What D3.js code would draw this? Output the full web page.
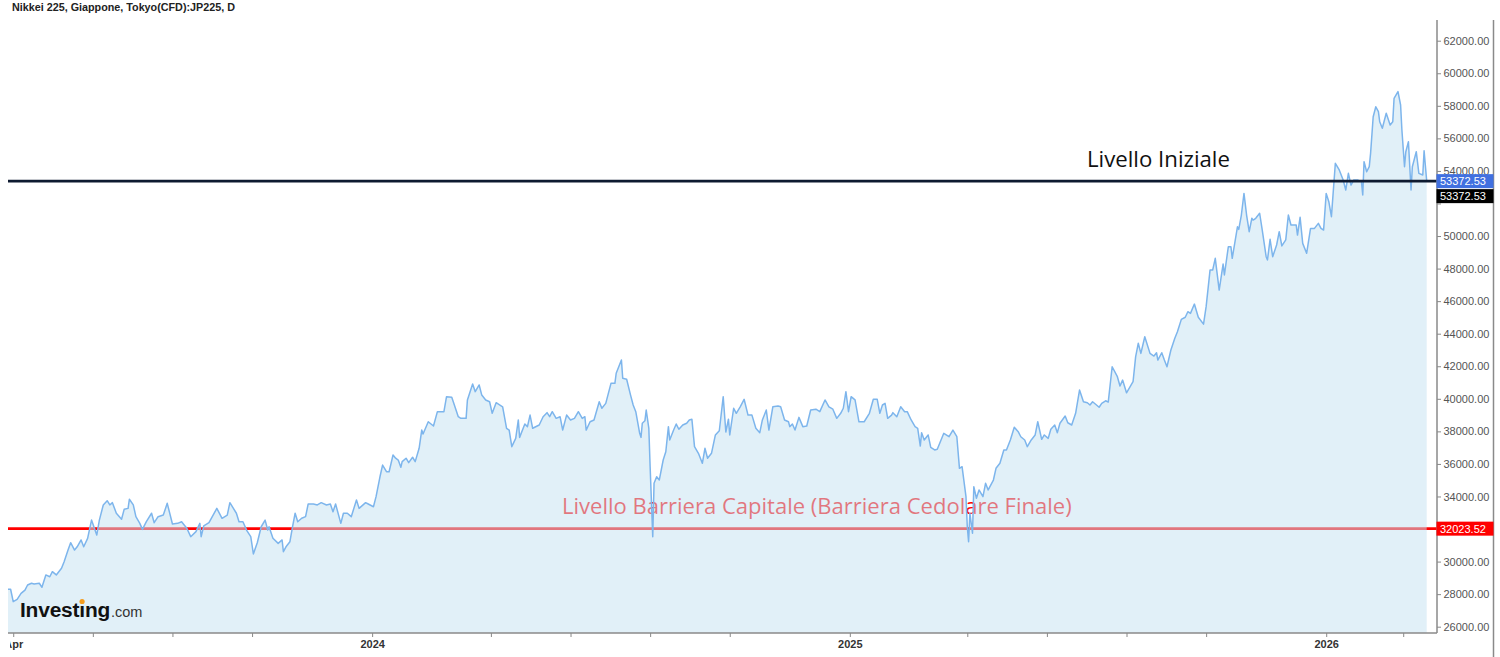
<!DOCTYPE html>
<html><head><meta charset="utf-8">
<script src="https://cdn.jsdelivr.net/npm/d3@7"></script>
<style>html,body{margin:0;padding:0;background:#fff;} svg{display:block}</style>
</head><body>
<svg id="chart" width="1500" height="657"></svg>
<script>
// ---------- DATA ----------
const title = "Nikkei 225, Giappone, Tokyo(CFD):JP225, D";
const initialLabel = "Livello Iniziale";
const barrierLabel = "Livello Barriera Capitale (Barriera Cedolare Finale)";
const initialLevel = 53372.53;
const barrierLevel = 32023.52;
const lastPrice = 53372.53;

const points2023 = [
["2023-03-28",28300],["2023-03-30",28300],["2023-04-01",27540],["2023-04-04",27680],["2023-04-07",28050],
["2023-04-10",28250],["2023-04-12",28560],["2023-04-15",28670],["2023-04-17",28620],["2023-04-21",28670],
["2023-04-23",28420],["2023-04-26",29180],["2023-04-29",29070],["2023-05-01",29380],["2023-05-04",29180],
["2023-05-08",29590],["2023-05-10",29990],["2023-05-13",30710],["2023-05-15",31160],["2023-05-18",30710],
["2023-05-20",30910],["2023-05-23",31330],["2023-05-25",30910],["2023-05-28",31430],["2023-05-31",32550],
["2023-06-04",31630],["2023-06-06",32550],["2023-06-09",33480],["2023-06-12",33740],["2023-06-14",33480],
["2023-06-16",33620],["2023-06-19",32970],["2023-06-23",32600],["2023-06-25",33210],["2023-06-28",33270],
["2023-06-29",33830],["2023-07-02",33480],["2023-07-04",32760],["2023-07-07",32350],["2023-07-09",31980],
["2023-07-12",32450],["2023-07-16",32970],["2023-07-18",32390],["2023-07-21",32760],["2023-07-25",32860],
["2023-07-28",33580],["2023-08-01",32310],["2023-08-05",32350],["2023-08-08",32450],["2023-08-12",32050],
["2023-08-15",31530],["2023-08-19",31840],["2023-08-22",32350],["2023-08-23",31530],["2023-08-25",32190],
["2023-08-29",32390],["2023-09-04",33270],["2023-09-08",32660],["2023-09-12",32860],["2023-09-14",33620],
["2023-09-19",32970],["2023-09-21",32450],["2023-09-24",32450],["2023-09-27",31900],["2023-09-30",31530],
["2023-10-02",30470],["2023-10-05",31160],["2023-10-08",32140],["2023-10-11",32550],["2023-10-13",31940],
["2023-10-14",32140],["2023-10-17",31430],["2023-10-21",31120],["2023-10-24",31330],["2023-10-25",30610],
["2023-10-27",30910],["2023-10-30",31220],["2023-11-01",32140],["2023-11-03",32970],["2023-11-05",32450],
["2023-11-08",32660],["2023-11-11",32760],["2023-11-13",33540],["2023-11-17",33540],["2023-11-20",33480],
["2023-11-23",33620],["2023-11-27",33480],["2023-11-30",33540],["2023-12-02",33060],["2023-12-04",33540],
["2023-12-08",32350],["2023-12-10",32970],["2023-12-13",32970],["2023-12-16",32760],["2023-12-20",33780],
["2023-12-22",33270],["2023-12-27",33620],["2023-12-29",33540]
];
const points2024 = [
["2024-01-02",33370],["2024-01-04",33990],["2024-01-07",35210],["2024-01-09",35930],["2024-01-12",35520],
["2024-01-14",35520],["2024-01-17",36550],["2024-01-19",36350],["2024-01-21",36240],["2024-01-23",35790],
["2024-01-24",36140],["2024-01-27",36350],["2024-01-29",36080],["2024-02-01",36410],["2024-02-03",36140],
["2024-02-06",36960],["2024-02-08",38080],["2024-02-09",37840],["2024-02-13",38590],["2024-02-17",38330],
["2024-02-20",39210],["2024-02-25",39210],["2024-02-27",40130],["2024-03-02",40090],["2024-03-04",39620],
["2024-03-07",38900],["2024-03-09",38800],["2024-03-13",38800],["2024-03-14",39930],["2024-03-18",40910],
["2024-03-20",40440],["2024-03-23",40850],["2024-03-25",40230],["2024-03-28",39930],["2024-03-31",39820],
["2024-04-02",39110],["2024-04-05",39760],["2024-04-10",39510],["2024-04-13",38190],["2024-04-15",38080],
["2024-04-17",37060],["2024-04-20",37570],["2024-04-22",38700],["2024-04-23",37630],["2024-04-27",38450],
["2024-04-29",38290],["2024-05-01",39000],["2024-05-03",38190],["2024-05-08",38390],["2024-05-11",38900],
["2024-05-14",39150],["2024-05-16",38900],["2024-05-18",39210],["2024-05-21",38800],["2024-05-24",38900],
["2024-05-26",38080],["2024-05-29",39000],["2024-06-01",38700],["2024-06-04",38800],["2024-06-07",39210],
["2024-06-10",38800],["2024-06-12",38900],["2024-06-13",38080],["2024-06-16",38590],["2024-06-19",38700],
["2024-06-23",39820],["2024-06-25",39420],["2024-06-28",39720],["2024-07-02",40950],["2024-07-05",40950],
["2024-07-06",41570],["2024-07-10",42380],["2024-07-11",41260],["2024-07-14",41200],["2024-07-17",40230],
["2024-07-19",39620],["2024-07-21",39210],["2024-07-24",37880],["2024-07-25",37630],["2024-07-26",38500],
["2024-07-28",38650],["2024-07-29",39310],["2024-07-31",38190],["2024-08-01",35830],["2024-08-03",31530],
["2024-08-04",34810],["2024-08-06",35210],["2024-08-08",35010],["2024-08-11",36240],["2024-08-13",36750],
["2024-08-15",38290],["2024-08-16",37470],["2024-08-19",38080],["2024-08-21",38450],["2024-08-23",38130],
["2024-08-26",38390],["2024-08-29",38500],["2024-08-31",38700],["2024-09-02",38740],["2024-09-04",37060],
["2024-09-07",36650],["2024-09-10",36040],["2024-09-12",36960],["2024-09-14",36350],["2024-09-17",36650],
["2024-09-20",37780],["2024-09-23",38040],["2024-09-26",40130],["2024-09-28",37960],["2024-09-30",38750],
["2024-10-01",37780],["2024-10-04",39420],["2024-10-06",39110],["2024-10-09",39510],["2024-10-12",39970],
["2024-10-15",39000],["2024-10-18",39000],["2024-10-21",38190],["2024-10-24",37920],["2024-10-26",38700],
["2024-10-29",39310],["2024-10-31",38080],["2024-11-03",39510],["2024-11-07",39560],["2024-11-09",39510],
["2024-11-12",38700],["2024-11-15",38590],["2024-11-16",38290],["2024-11-18",38450],["2024-11-20",38080],
["2024-11-23",38860],["2024-11-26",38290],["2024-11-29",38330],["2024-12-02",39310],["2024-12-06",39360],
["2024-12-09",39210],["2024-12-13",39930],["2024-12-16",39510],["2024-12-19",39360],["2024-12-22",38800],
["2024-12-25",39110],["2024-12-27",39420],["2024-12-29",40440],["2024-12-31",39210]
];
const points2025 = [
["2025-01-02",40130],["2025-01-05",39930],["2025-01-08",38590],["2025-01-12",38590],["2025-01-16",39110],
["2025-01-19",39970],["2025-01-22",39970],["2025-01-24",39110],["2025-01-26",39620],["2025-01-28",39720],
["2025-01-30",38800],["2025-02-02",39000],["2025-02-03",39150],["2025-02-06",38900],["2025-02-09",39510],
["2025-02-12",39210],["2025-02-14",39210],["2025-02-17",38700],["2025-02-20",38290],["2025-02-22",38190],
["2025-02-24",37100],["2025-02-25",37920],["2025-02-27",37470],["2025-03-02",37780],["2025-03-04",37020],
["2025-03-07",36860],["2025-03-09",36900],["2025-03-14",37880],["2025-03-18",37670],["2025-03-21",38080],
["2025-03-24",37670],["2025-03-26",35730],["2025-03-28",35830],["2025-03-31",33990],["2025-04-01",32140],
["2025-04-02",31220],["2025-04-03",32970],["2025-04-05",31740],["2025-04-06",34600],["2025-04-08",33890],
["2025-04-10",34400],["2025-04-13",33990],["2025-04-15",34810],["2025-04-17",34400],["2025-04-21",35010],
["2025-04-23",35730],["2025-04-26",36040],["2025-04-29",36860],["2025-05-01",36860],["2025-05-04",37470],
["2025-05-07",38250],["2025-05-10",37980],["2025-05-12",37670],["2025-05-15",37470],["2025-05-17",37060],
["2025-05-20",37470],["2025-05-23",37780],["2025-05-25",38590],["2025-05-28",37510],["2025-05-30",37780],
["2025-06-02",37570],["2025-06-04",38130],["2025-06-07",38390],["2025-06-09",37920],["2025-06-11",38500],
["2025-06-15",38940],["2025-06-17",38530],["2025-06-20",38390],["2025-06-23",39110],["2025-06-26",40540],
["2025-06-29",39820],["2025-07-02",39760],["2025-07-04",39620],["2025-07-06",39820],["2025-07-09",39620],
["2025-07-11",39480],["2025-07-13",39720],["2025-07-16",39880],["2025-07-18",39800],["2025-07-21",41970],
["2025-07-25",41360],["2025-07-27",40790],["2025-07-29",41150],["2025-08-01",40370],["2025-08-06",41050],
["2025-08-08",42590],["2025-08-10",43410],["2025-08-12",42790],["2025-08-15",43810],["2025-08-19",42790],
["2025-08-22",42630],["2025-08-24",42830],["2025-08-25",42380],["2025-08-28",42830],["2025-08-30",42380],
["2025-09-01",41970],["2025-09-04",43000],["2025-09-07",43720],["2025-09-09",44120],["2025-09-12",44880],
["2025-09-15",45010],["2025-09-17",45350],["2025-09-19",45250],["2025-09-22",45820],["2025-09-25",45010],
["2025-09-29",44590],["2025-10-01",45660],["2025-10-04",47910],["2025-10-06",47910],["2025-10-08",48630],
["2025-10-11",46680],["2025-10-14",48280],["2025-10-15",47610],["2025-10-18",49340],["2025-10-20",49340],
["2025-10-21",48630],["2025-10-25",50570],["2025-10-26",50410],["2025-10-28",51290],["2025-10-30",52620],
["2025-11-01",51290],["2025-11-03",50270],["2025-11-05",51090],["2025-11-06",50980],["2025-11-08",51090],
["2025-11-11",51400],["2025-11-13",50370],["2025-11-16",48730],["2025-11-17",48530],["2025-11-19",49800],
["2025-11-21",48730],["2025-11-24",49450],["2025-11-26",50270],["2025-11-28",49390],["2025-12-01",49760],
["2025-12-03",51290],["2025-12-05",50680],["2025-12-09",50680],["2025-12-10",50060],["2025-12-12",51150],
["2025-12-14",49550],["2025-12-17",48940],["2025-12-20",50470],["2025-12-23",50470],["2025-12-26",50780],
["2025-12-28",50470],["2025-12-30",50370]
];
const points2026 = [
["2026-01-01",52620],["2026-01-03",52110],["2026-01-05",51190],["2026-01-08",54470],["2026-01-11",54060],
["2026-01-14",53440],["2026-01-16",52830],["2026-01-18",53850],["2026-01-20",53130],["2026-01-22",53440],
["2026-01-25",53440],["2026-01-28",53340],["2026-01-29",52520],["2026-01-30",54570],["2026-02-01",53950],
["2026-02-03",54260],["2026-02-04",55080],["2026-02-06",57330],["2026-02-08",57940],["2026-02-10",57640],
["2026-02-11",57020],["2026-02-13",56620],["2026-02-16",57540],["2026-02-19",56820],["2026-02-21",57020],
["2026-02-22",58460],["2026-02-25",58870],["2026-02-27",58050],["2026-02-28",56510],["2026-03-02",54260],
["2026-03-03",55180],["2026-03-05",55790],["2026-03-07",52830],["2026-03-08",54260],["2026-03-11",55180],
["2026-03-13",53850],["2026-03-16",53750],["2026-03-17",55240],["2026-03-19",53372.53]
];

const yTicks = [26000,28000,30000,32000,34000,36000,38000,40000,42000,44000,46000,48000,50000,52000,54000,56000,58000,60000,62000];
// tick labels hidden behind the price boxes in the reference
const yHiddenLabels = [32000, 52000];
const xTickDates = ["2023-04-01","2023-06-01","2023-08-01","2023-10-01","2024-01-01","2024-04-01","2024-06-01","2024-08-01","2024-10-01","2025-01-01","2025-04-01","2025-06-01","2025-08-01","2025-10-01","2026-01-01","2026-03-01"];
const xTickLabels = ["Apr","","","","2024","","","","","2025","","","","","2026",""];
const xDomain = ["2023-03-28","2026-03-19"];
const yDomain = [26000, 62000];

// ---------- LAYOUT ----------
const parse = d3.timeParse("%Y-%m-%d");
const data = [...points2023, ...points2024, ...points2025, ...points2026].map(d => ({date: parse(d[0]), value: d[1]}));

const plotLeft = 8, plotRight = 1437, plotTop = 20, plotBottom = 633, frameRight = 1493.5;
const x = d3.scaleTime().domain(xDomain.map(parse)).range([8, 1426.7]);
const y = d3.scaleLinear().domain(yDomain).range([626.7, 40.7]);

const svg = d3.select("#chart");
const defs = svg.append("defs");
defs.append("clipPath").attr("id","plotClip").append("rect")
  .attr("x", plotLeft).attr("y", plotTop).attr("width", plotRight - plotLeft).attr("height", plotBottom - plotTop);
defs.append("clipPath").attr("id","xAxisClip").append("rect")
  .attr("x", 10).attr("y", -2).attr("width", 1490).attr("height", 30);

const plot = svg.append("g").attr("clip-path","url(#plotClip)");

function fitText(sel, width) {
  const w = sel.node().getComputedTextLength();
  const fs = parseFloat(sel.attr("font-size"));
  if (w > 0) sel.attr("font-size", (fs * width / w).toFixed(2));
}

// red barrier line + label (drawn below the translucent area)
plot.append("line").attr("x1", 6).attr("x2", plotRight)
  .attr("y1", y(barrierLevel)).attr("y2", y(barrierLevel))
  .attr("stroke", "#ff0000").attr("stroke-width", 2.6);
const redText = plot.append("text").attr("x", 562).attr("y", 514)
  .attr("font-family", "'Open Sans', 'Noto Sans', sans-serif").attr("font-size", 20)
  .attr("fill", "#ff0000").text(barrierLabel);
fitText(redText, 510);

// area + line
const area = d3.area().x(d => x(d.date)).y0(plotBottom).y1(d => y(d.value));
plot.append("path").datum(data).attr("d", area).attr("fill", "rgba(198,227,242,0.52)");
const line = d3.line().x(d => x(d.date)).y(d => y(d.value));
plot.append("path").datum(data).attr("d", line).attr("fill", "none")
  .attr("stroke", "#7db5ec").attr("stroke-width", 1.5).attr("stroke-linejoin", "round");

// initial level line + label
plot.append("line").attr("x1", plotLeft).attr("x2", plotRight)
  .attr("y1", y(initialLevel)).attr("y2", y(initialLevel))
  .attr("stroke", "#0e1a30").attr("stroke-width", 2.6);
const blackText = svg.append("text").attr("x", 1087).attr("y", 166.5)
  .attr("font-family", "'Open Sans', 'Noto Sans', sans-serif").attr("font-size", 20)
  .attr("fill", "#111").text(initialLabel);
fitText(blackText, 143);

// Investing.com logo
const logo = svg.append("text").attr("x", 20).attr("y", 617)
  .attr("font-family", "'Liberation Sans', Arial, sans-serif").attr("font-weight", "bold")
  .attr("font-size", 20).attr("fill", "#111").attr("letter-spacing", -0.2);
logo.append("tspan").text("Invest");
logo.append("tspan").text("\u0131");
logo.append("tspan").text("ng");
fitText(logo, 90);
const iExt = logo.node().getExtentOfChar(6);
svg.append("circle").attr("cx", iExt.x + iExt.width / 2).attr("cy", 601.5).attr("r", 2.6).attr("fill", "#f39c1f");
svg.append("text").attr("x", 111).attr("y", 617)
  .attr("font-family", "'Liberation Sans', Arial, sans-serif").attr("font-size", 14.5)
  .attr("fill", "#333").text(".com");

// title
const t = svg.append("text").attr("x", 12).attr("y", 10.5)
  .attr("font-family", "'Liberation Sans', Arial, sans-serif").attr("font-weight", "bold")
  .attr("font-size", 10).attr("fill", "#222").text(title);
fitText(t, 223);

// right axis
const yAxis = svg.append("g").attr("transform", `translate(${plotRight},0)`)
  .call(d3.axisRight(y).tickValues(yTicks)
    .tickFormat(d => yHiddenLabels.includes(d) ? "" : d3.format(".2f")(d))
    .tickSize(4).tickSizeOuter(0).tickPadding(2.5));
yAxis.select(".domain").remove();
yAxis.selectAll(".tick line").attr("stroke", "#888");
yAxis.selectAll(".tick text").attr("fill", "#555")
  .attr("font-family", "'Liberation Sans', Arial, sans-serif").attr("font-size", 11);

// bottom axis
const xAxis = svg.append("g").attr("transform", `translate(0,${plotBottom})`)
  .attr("clip-path", "url(#xAxisClip)")
  .call(d3.axisBottom(x).tickValues(xTickDates.map(parse)).tickFormat((d, i) => xTickLabels[i]).tickSize(4).tickSizeOuter(0).tickPadding(3));
xAxis.select(".domain").remove();
xAxis.selectAll(".tick line").attr("stroke", "#888");
xAxis.selectAll(".tick text").attr("fill", "#333").attr("font-weight", "bold")
  .attr("font-family", "'Liberation Sans', Arial, sans-serif").attr("font-size", 11);

// frame lines
svg.append("line").attr("x1", plotLeft).attr("x2", plotRight).attr("y1", plotBottom).attr("y2", plotBottom)
  .attr("stroke", "#8a8a8a").attr("stroke-width", 1.5);
svg.append("line").attr("x1", plotRight).attr("x2", plotRight).attr("y1", plotTop).attr("y2", plotBottom)
  .attr("stroke", "#8a8a8a").attr("stroke-width", 1.5);
svg.append("line").attr("x1", frameRight).attr("x2", frameRight).attr("y1", plotTop).attr("y2", 657)
  .attr("stroke", "#8a8a8a").attr("stroke-width", 1.5);

// price boxes
function priceBox(cy, bg, value) {
  svg.append("rect").attr("x", plotRight - 0.5).attr("y", cy - 7).attr("width", frameRight - plotRight + 0.5).attr("height", 14).attr("fill", bg);
  svg.append("text").attr("x", plotRight + 3).attr("y", cy + 4)
    .attr("font-family", "'Liberation Sans', Arial, sans-serif").attr("font-size", 11)
    .attr("fill", "#fff").text(d3.format(".2f")(value));
}
priceBox(y(lastPrice), "#4170e0", lastPrice);
priceBox(y(initialLevel) + 15, "#000", initialLevel);
priceBox(y(barrierLevel), "#ff0000", barrierLevel);
</script>
</body></html>
